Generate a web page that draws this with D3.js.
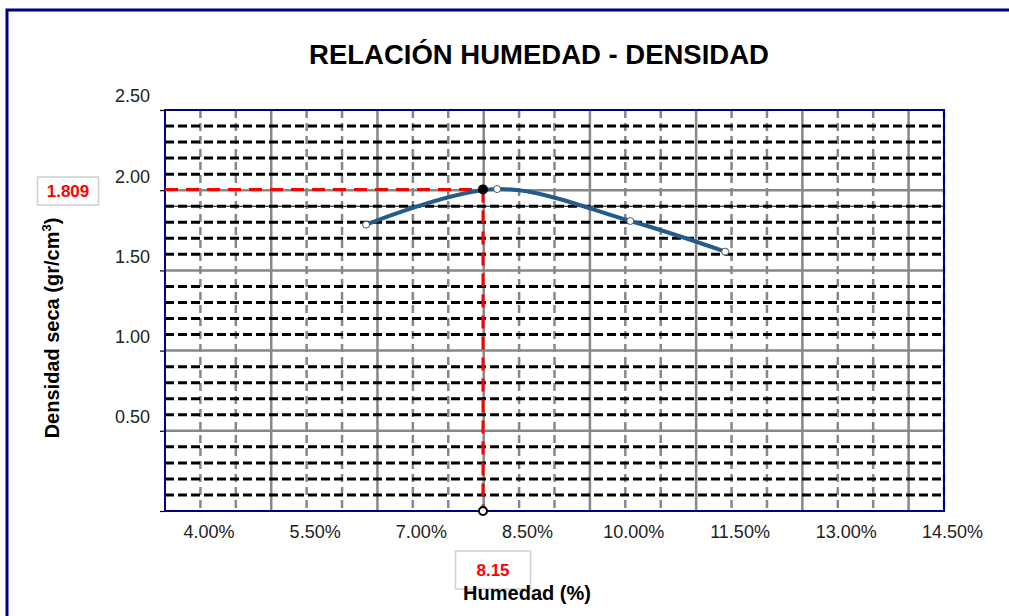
<!DOCTYPE html>
<html>
<head>
<meta charset="utf-8">
<script src="https://cdn.jsdelivr.net/npm/d3@7"></script>
<style>
  html, body { margin: 0; padding: 0; background: #fff; }
  svg { display: block; font-family: "Liberation Sans", Arial, sans-serif; }
</style>
</head>
<body>
<div id="chart"></div>
<script>
// data
const moisture = [6.34, 8.19, 10.07, 11.41]      // %
const density = [1.785, 2.007, 1.808, 1.617]     // gr/cm3
const optimum = { x: 7.99, y: 2.005 }
const optLabelY = '1.809'
const optLabelX = '8.15'
const refLine = 1.9
const xTickValues = [4.0, 5.5, 7.0, 8.5, 10.0, 11.5, 13.0, 14.5]
const yTickValues = [0, 0.5, 1.0, 1.5, 2.0, 2.5]

const W = 1009, H = 616
const margin = { top: 110, right: 65, bottom: 105, left: 165 }

const svg = d3.select('#chart').append('svg').attr('width', W).attr('height', H)

// outer chart border (runs off the right/bottom of the picture)
svg.append('rect')
  .attr('x', 7).attr('y', 10).attr('width', 1100).attr('height', 700)
  .attr('fill', '#fff').attr('stroke', '#000080').attr('stroke-width', 3)

const x = d3.scaleLinear().domain([3.5, 14.5]).range([margin.left, W - margin.right])
const y = d3.scaleLinear().domain([0, 2.5]).range([H - margin.bottom, margin.top])

const g = svg.append('g')

// minor vertical gridlines (gray dashed)
const xMinor = d3.range(3.5, 14.51, 0.5).filter((v, i) => i % 3 !== 0)
g.selectAll('.xminor').data(xMinor).join('line')
  .attr('x1', d => x(d)).attr('x2', d => x(d))
  .attr('y1', y(2.5)).attr('y2', y(0))
  .attr('stroke', '#878787').attr('stroke-width', 2.5).attr('stroke-dasharray', '8,5')

// major vertical gridlines
const xMajor = d3.range(5, 14.51, 1.5)
g.selectAll('.xmajor').data(xMajor).join('line')
  .attr('x1', d => x(d)).attr('x2', d => x(d))
  .attr('y1', y(2.5)).attr('y2', y(0))
  .attr('stroke', '#878787').attr('stroke-width', 2.5)

// major horizontal gridlines
const yMajor = [0.5, 1.0, 1.5, 2.0]
g.selectAll('.ymajor').data(yMajor).join('line')
  .attr('x1', x(3.5)).attr('x2', x(14.5))
  .attr('y1', d => y(d)).attr('y2', d => y(d))
  .attr('stroke', '#878787').attr('stroke-width', 2.5)

// minor horizontal gridlines (black dashed)
const yMinor = d3.range(1, 25).filter(i => i % 5 !== 0).map(i => i / 10)
g.selectAll('.yminor').data(yMinor).join('line')
  .attr('x1', x(3.5)).attr('x2', x(14.5))
  .attr('y1', d => y(d)).attr('y2', d => y(d))
  .attr('stroke', '#000').attr('stroke-width', 3).attr('stroke-dasharray', '9,4')

// solid reference line
g.append('line')
  .attr('x1', x(3.5)).attr('x2', x(14.5))
  .attr('y1', y(refLine)).attr('y2', y(refLine))
  .attr('stroke', '#000').attr('stroke-width', 1.2)

// plot frame
g.append('rect')
  .attr('x', x(3.5)).attr('y', y(2.5))
  .attr('width', x(14.5) - x(3.5)).attr('height', y(0) - y(2.5))
  .attr('fill', 'none').attr('stroke', '#000080').attr('stroke-width', 2)

// y axis ticks + labels (labels sit above their tick, as in the original)
const yAxis = g.append('g').attr('transform', `translate(${x(3.5)},0)`)
  .call(d3.axisLeft(y).tickValues(yTickValues).tickSize(5).tickPadding(10)
    .tickFormat(d => d === 0 ? '' : d3.format('.2f')(d)))
yAxis.select('.domain').remove()
yAxis.selectAll('.tick line').attr('stroke', '#000').attr('stroke-width', 1.2)
yAxis.selectAll('.tick text')
  .attr('font-size', 18).attr('fill', '#222').attr('dy', '-0.45em')
  .style('font-family', '"Liberation Sans", Arial, sans-serif')

// x axis labels
const xAxis = g.append('g').attr('transform', `translate(8,${y(0)})`)
  .call(d3.axisBottom(x).tickValues(xTickValues).tickSize(0).tickPadding(14)
    .tickFormat(d => d3.format('.2f')(d) + '%'))
xAxis.select('.domain').remove()
xAxis.selectAll('.tick text')
  .attr('font-size', 18).attr('fill', '#222')
  .style('font-family', '"Liberation Sans", Arial, sans-serif')

// optimum guide lines
g.append('line')
  .attr('x1', x(3.5)).attr('x2', x(optimum.x))
  .attr('y1', y(optimum.y)).attr('y2', y(optimum.y))
  .attr('stroke', '#ff0000').attr('stroke-width', 3).attr('stroke-dasharray', '13,8')
g.append('line')
  .attr('x1', x(optimum.x)).attr('x2', x(optimum.x))
  .attr('y1', y(optimum.y)).attr('y2', y(0))
  .attr('stroke', '#ff0000').attr('stroke-width', 3).attr('stroke-dasharray', '13,8')

// compaction curve
const pts = moisture.map((m, i) => ({ m, d: density[i] }))
const line = d3.line().x(d => x(d.m)).y(d => y(d.d)).curve(d3.curveCatmullRom.alpha(0.5))
g.append('path').datum(pts)
  .attr('fill', 'none').attr('stroke', '#245b88').attr('stroke-width', 4)
  .attr('d', line)

g.selectAll('.pt').data(pts).join('circle')
  .attr('cx', d => x(d.m)).attr('cy', d => y(d.d)).attr('r', 3.5)
  .attr('fill', '#fff').attr('stroke', '#555').attr('stroke-width', 1)

// optimum markers
g.append('circle')
  .attr('cx', x(optimum.x)).attr('cy', y(optimum.y)).attr('r', 5)
  .attr('fill', '#000')
g.append('circle')
  .attr('cx', x(optimum.x)).attr('cy', y(0)).attr('r', 4)
  .attr('fill', '#fff').attr('stroke', '#000').attr('stroke-width', 2)

// value boxes
function valueBox(cx, cy, w, h, txt) {
  svg.append('rect')
    .attr('x', cx - w / 2).attr('y', cy - h / 2).attr('width', w).attr('height', h)
    .attr('fill', '#fff').attr('stroke', '#d0d0d0').attr('stroke-width', 1.5)
  svg.append('text')
    .attr('x', cx).attr('y', cy).attr('dy', '0.36em')
    .attr('text-anchor', 'middle').attr('font-size', 17).attr('font-weight', 'bold')
    .attr('fill', '#ff0000').text(txt)
}
valueBox(68, 191, 61, 28, optLabelY)
valueBox(493, 570, 75, 38, optLabelX)

// titles
svg.append('text')
  .attr('x', 539).attr('y', 64).attr('text-anchor', 'middle')
  .attr('font-size', 27.5).attr('font-weight', 'bold').attr('fill', '#000')
  .text('RELACIÓN HUMEDAD - DENSIDAD')

svg.append('text')
  .attr('x', 527).attr('y', 600).attr('text-anchor', 'middle')
  .attr('font-size', 20).attr('font-weight', 'bold').attr('fill', '#000')
  .text('Humedad (%)')

const yTitle = svg.append('text')
  .attr('transform', 'translate(59,328) rotate(-90)')
  .attr('text-anchor', 'middle')
  .attr('font-size', 20).attr('font-weight', 'bold').attr('fill', '#000')
yTitle.append('tspan').text('Densidad seca (gr/cm')
yTitle.append('tspan').attr('font-size', 13).attr('dy', -8).text('3')
yTitle.append('tspan').attr('dy', 8).text(')')
</script>
</body>
</html>
